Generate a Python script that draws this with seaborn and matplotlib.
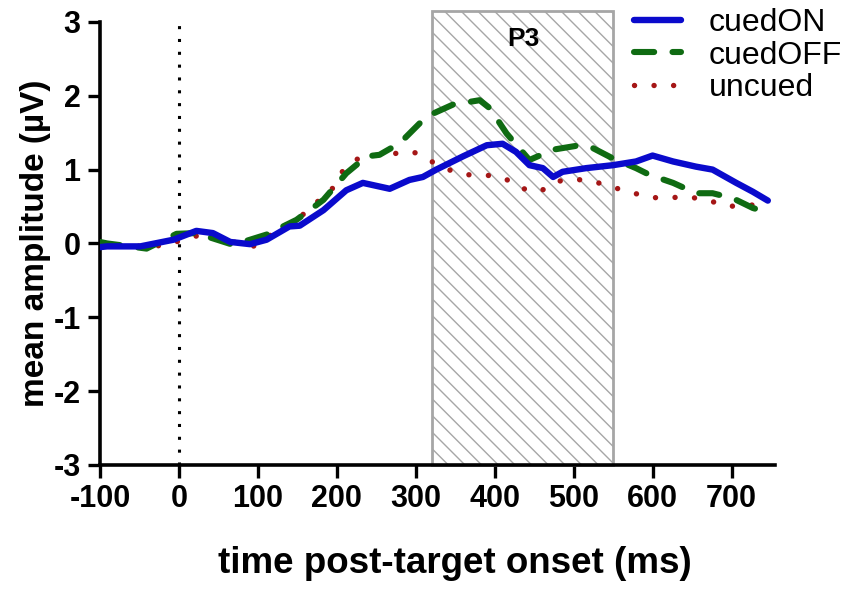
import numpy as np
import pandas as pd
import matplotlib
matplotlib.use("Agg")
import matplotlib.pyplot as plt
import seaborn as sns
from matplotlib.patches import Rectangle

# ---------------- data ----------------
on_time = [-100, -91, -49, -7, 22, 43, 65, 90, 111, 140, 153, 183, 212, 233, 267, 292, 309, 326,
           360, 390, 410, 427, 444, 461, 474, 486, 516, 550, 579, 600, 626, 655, 676, 706, 727, 746]
on_amp = [-0.05, -0.04, -0.04, 0.05, 0.17, 0.14, 0.02, -0.01, 0.05, 0.23, 0.24, 0.45, 0.72, 0.82,
          0.74, 0.86, 0.90, 1.00, 1.18, 1.33, 1.35, 1.24, 1.06, 1.02, 0.90, 0.97, 1.02, 1.06,
          1.11, 1.19, 1.11, 1.04, 1.00, 0.82, 0.70, 0.58]

off_time = [-100, -91, -41, -3, 22, 69, 111, 149, 183, 212, 238, 254, 280, 309, 318, 347, 381, 394,
            415, 444, 474, 508, 521, 550, 579, 596, 626, 655, 676, 702, 727, 746]
off_amp = [0.02, 0.0, -0.07, 0.13, 0.14, -0.02, 0.12, 0.32, 0.59, 0.95, 1.18, 1.20, 1.36, 1.67,
           1.74, 1.88, 1.94, 1.83, 1.49, 1.13, 1.27, 1.33, 1.31, 1.15, 1.02, 0.93, 0.82, 0.68,
           0.68, 0.61, 0.48, 0.42]

un_time = [-100, -91, -70, -20, 22, 48, 94, 136, 157, 195, 208, 227, 254, 297, 318, 341, 364, 387,
           413, 432, 457, 478, 502, 525, 550, 573, 598, 621, 645, 669, 695, 720, 743]
un_amp = [0.0, 0.0, -0.04, -0.03, 0.10, 0.07, -0.04, 0.25, 0.39, 0.75, 0.99, 1.15, 1.20, 1.24,
          1.12, 1.00, 0.93, 0.93, 0.88, 0.75, 0.70, 0.84, 0.87, 0.84, 0.76, 0.69, 0.62, 0.62,
          0.63, 0.59, 0.50, 0.52, 0.52]

series_names = ["cuedON", "cuedOFF", "uncued"]
window = [320, 550]
x_ticks = [-100, 0, 100, 200, 300, 400, 500, 600, 700]
y_ticks = [-3, -2, -1, 0, 1, 2, 3]

df = pd.concat([
    pd.DataFrame({"time": on_time, "amp": on_amp, "cond": "cuedON"}),
    pd.DataFrame({"time": off_time, "amp": off_amp, "cond": "cuedOFF"}),
    pd.DataFrame({"time": un_time, "amp": un_amp, "cond": "uncued"}),
])

# ---------------- style ----------------
sns.set_theme(style="ticks")
plt.rcParams["font.family"] = ["Liberation Sans", "DejaVu Sans"]
plt.rcParams["hatch.linewidth"] = 1.0
for k in ["text.color", "axes.labelcolor", "xtick.color", "ytick.color", "axes.edgecolor"]:
    plt.rcParams[k] = "black"

fig = plt.figure(figsize=(8.62, 5.93), dpi=100)
ax = fig.add_axes([0.116, 0.216, 0.783, 0.747])

# P3 window
rect = Rectangle((window[0], -3), window[1] - window[0], 6.15, facecolor="white",
                 edgecolor="#a6a6a6", hatch="\\\\", linewidth=2, zorder=1, clip_on=False)
ax.add_patch(rect)
ax.text(437, 2.77, "P3", ha="center", va="center", fontsize=19,
        fontweight="bold", zorder=2)

# onset line
ax.axvline(0, color="black", linestyle=(0, (1, 3.2)), linewidth=2.2, zorder=2)

colors = {"cuedON": "#0A0ACC", "cuedOFF": "#0F6B12", "uncued": "#A51616"}
sub = df[df.cond == "cuedON"]
sns.lineplot(data=sub, x="time", y="amp", ax=ax, color=colors["cuedON"], linewidth=4.6,
             label="cuedON", zorder=5, estimator=None, sort=False,
             solid_capstyle="round", solid_joinstyle="round")
sub = df[df.cond == "cuedOFF"]
sns.lineplot(data=sub, x="time", y="amp", ax=ax, color=colors["cuedOFF"], linewidth=4.4,
             label="cuedOFF", zorder=4, estimator=None, sort=False,
             linestyle=(0, (3.3, 3.0)), dash_capstyle="round")
sub = df[df.cond == "uncued"]
sns.lineplot(data=sub, x="time", y="amp", ax=ax, color=colors["uncued"], linewidth=3.9,
             label="uncued", zorder=3, estimator=None, sort=False,
             linestyle=(0, (0.01, 3.6)), dash_capstyle="round")

ax.set_xlim(-100, 755)
ax.set_ylim(-3, 3)
ax.set_xticks(x_ticks)
ax.set_yticks(y_ticks)
ax.set_xticklabels([str(t) for t in x_ticks], fontsize=22, fontweight="bold")
ax.set_yticklabels([str(t) for t in y_ticks], fontsize=22, fontweight="bold")
ax.tick_params(axis="both", width=2.4, length=9, color="black", pad=5)
for s in ["left", "bottom"]:
    ax.spines[s].set_linewidth(2.6)
    ax.spines[s].set_color("black")
sns.despine(ax=ax)

ax.set_xlabel("time post-target onset (ms)", fontsize=26.5, fontweight="bold", labelpad=23)
ax.xaxis.label.set_x(0.526)
ax.set_ylabel("mean amplitude (\u00b5V)", fontsize=24, fontweight="bold", labelpad=2)

ax.get_legend().remove()
handles, labels = ax.get_legend_handles_labels()
fig.legend(handles, labels, loc="upper right", bbox_to_anchor=(1.01, 1.035), frameon=False,
           fontsize=23, handlelength=1.5, handletextpad=0.85, labelspacing=0.08)

fig.savefig("out.png", dpi=100)
